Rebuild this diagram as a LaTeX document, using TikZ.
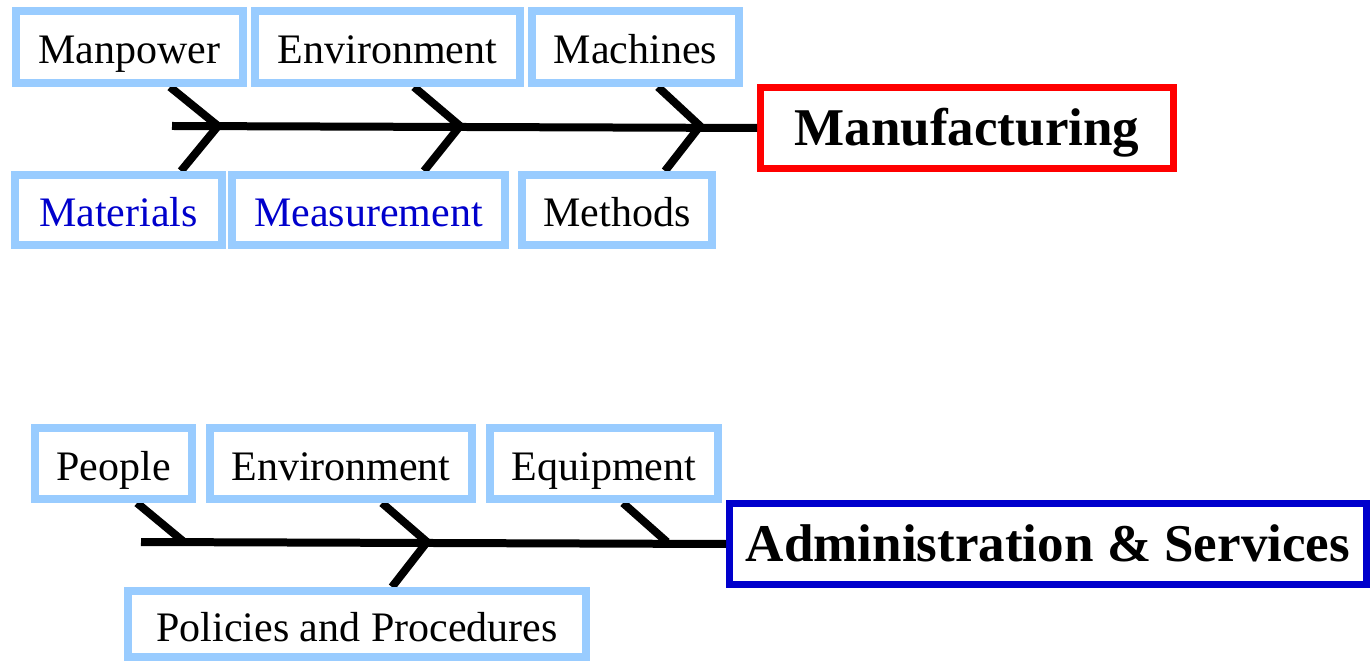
\documentclass[tikz,border=0pt]{standalone}
\usepackage{fontspec}
\setmainfont{Liberation Serif}
\usetikzlibrary{positioning,calc}

\definecolor{boxblue}{HTML}{99CCFF}
\definecolor{headred}{HTML}{FF0000}
\definecolor{headblue}{HTML}{0000CC}

\begin{document}
\begin{tikzpicture}[
  x=0.02cm,y=-0.02cm,
  cause/.style={draw=boxblue,line width=0.16cm,fill=white,inner sep=0pt,
                font=\fontsize{23.9}{28}\selectfont,minimum height=1.44cm,
                text height=0.88cm,text depth=0.2cm},
  effect/.style={draw,line width=0.14cm,fill=white,inner sep=0pt,
                 font=\fontsize{30.2}{34}\selectfont\bfseries,minimum height=1.62cm,
                 text height=0.96cm,text depth=0.24cm},
  bone/.style={line width=0.16cm,draw=black},
  spine/.style={line width=0.16cm,draw=black}
]
  \useasboundingbox (0,0) rectangle (1371,661);

  % manufacturing fishbone
  \coordinate (s1) at (172,126);
  \coordinate (j1) at (218,126);
  \coordinate (j2) at (460,126);
  \coordinate (j3) at (700,126);
  \coordinate (u1) at (170,87);
  \coordinate (u2) at (414,87);
  \coordinate (u3) at (658,87);
  \coordinate (l1) at (181,171);
  \coordinate (l2) at (424,171);
  \coordinate (l3) at (665,171);

  \node[effect,draw=headred,minimum width=8.26cm] (manuf) at (967,128) {Manufacturing};
  \draw[spine] (s1) -- (manuf.west);
  \draw[bone] (u1) -- (j1) -- (l1);
  \draw[bone] (u2) -- (j2) -- (l2);
  \draw[bone] (u3) -- (j3) -- (l3);

  \node[cause,minimum width=4.54cm] (manpower) at (129.5,47) {Manpower};
  \node[cause,minimum width=5.30cm] (envA) at (387.5,47) {Environment};
  \node[cause,minimum width=4.14cm] (machines) at (635.5,47) {Machines};
  \node[cause,minimum width=4.14cm,minimum height=1.40cm,text=headblue] (materials) at (118.5,210) {Materials};
  \node[cause,minimum width=5.46cm,minimum height=1.40cm,text=headblue] (measure) at (368.5,210) {Measurement};
  \node[cause,minimum width=3.80cm,minimum height=1.40cm] (methods) at (617,210) {Methods};

  % administration fishbone
  \coordinate (s2) at (141,542);
  \coordinate (k1) at (184,542);
  \coordinate (k2) at (427,542);
  \coordinate (k3) at (667,542);
  \coordinate (v1) at (137,503);
  \coordinate (v2) at (382,503);
  \coordinate (v3) at (623,503);
  \coordinate (w2) at (392,587);

  \node[effect,draw=headblue,minimum width=12.74cm] (admin) at (1048,544) {Administration \& Services};
  \draw[spine] (s2) -- (admin.west);
  \draw[bone] (v1) -- (k1);
  \draw[bone] (v2) -- (k2) -- (w2);
  \draw[bone] (v3) -- (k3);

  \node[cause,minimum width=3.14cm,minimum height=1.42cm] (people) at (113.5,463.5) {People};
  \node[cause,minimum width=5.24cm,minimum height=1.42cm] (envB) at (341,463.5) {Environment};
  \node[cause,minimum width=4.56cm,minimum height=1.42cm] (equip) at (604,463.5) {Equipment};
  \node[cause,minimum width=9.16cm,minimum height=1.32cm] (policies) at (357,624) {Policies and Procedures};
\end{tikzpicture}
\end{document}
